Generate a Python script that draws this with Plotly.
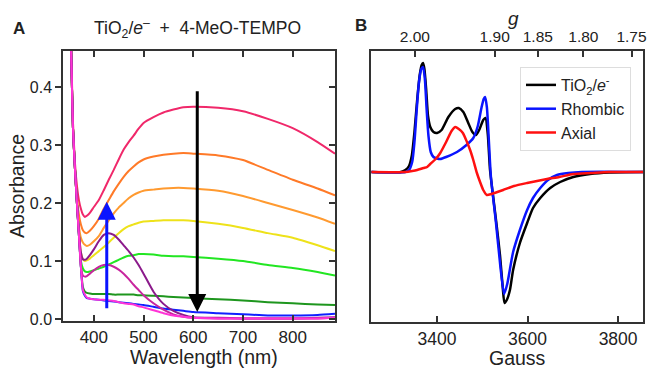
import plotly.graph_objects as go

# ---------------- Panel A data (UV-vis) ----------------
WL = [352, 355, 358, 362, 366, 370, 374, 378, 382, 386, 392, 400, 410, 420, 430, 440, 450,
      460, 470, 480, 490, 500, 520, 540, 560, 580, 600, 650, 700, 750, 800, 850, 885]

A_s1 = [0.56, 0.45, 0.34, 0.27, 0.23, 0.205, 0.19, 0.18, 0.176, 0.178, 0.183, 0.193, 0.205, 0.222,
        0.24, 0.257, 0.275, 0.292, 0.305, 0.316, 0.328, 0.338, 0.348, 0.356, 0.361, 0.365, 0.366,
        0.364, 0.358, 0.345, 0.329, 0.305, 0.285]
A_s2 = [0.56, 0.44, 0.33, 0.26, 0.21, 0.18, 0.163, 0.153, 0.149, 0.148, 0.152, 0.16, 0.173, 0.19,
        0.205, 0.22, 0.233, 0.245, 0.255, 0.263, 0.27, 0.275, 0.28, 0.283, 0.285, 0.286, 0.285,
        0.282, 0.274, 0.257, 0.24, 0.225, 0.213]
A_s3 = [0.56, 0.44, 0.33, 0.26, 0.2, 0.16, 0.14, 0.132, 0.128, 0.126, 0.128, 0.134, 0.143, 0.157,
        0.17, 0.182, 0.192, 0.2, 0.208, 0.214, 0.218, 0.221, 0.223, 0.225, 0.226, 0.226, 0.225,
        0.221, 0.212, 0.2, 0.188, 0.175, 0.164]
A_s4 = [0.56, 0.44, 0.33, 0.26, 0.2, 0.15, 0.115, 0.103, 0.1, 0.101, 0.104, 0.11, 0.117, 0.124,
        0.132, 0.14, 0.148, 0.155, 0.16, 0.163, 0.166, 0.168, 0.169, 0.17, 0.17, 0.17, 0.169,
        0.164, 0.157, 0.148, 0.14, 0.127, 0.117]
A_s5 = [0.56, 0.44, 0.33, 0.26, 0.2, 0.145, 0.1, 0.087, 0.082, 0.081, 0.082, 0.084, 0.087, 0.09,
        0.094, 0.098, 0.102, 0.106, 0.109, 0.11, 0.112, 0.112, 0.111, 0.109, 0.108, 0.108, 0.107,
        0.104, 0.1, 0.093, 0.088, 0.081, 0.075]
A_s6 = [0.56, 0.44, 0.33, 0.26, 0.2, 0.145, 0.09, 0.055, 0.047, 0.045, 0.044, 0.043, 0.043, 0.043,
        0.043, 0.042, 0.042, 0.042, 0.042, 0.042, 0.041, 0.041, 0.04, 0.039, 0.038, 0.037, 0.036,
        0.034, 0.032, 0.029, 0.027, 0.025, 0.024]
A_s7 = [0.56, 0.44, 0.33, 0.26, 0.2, 0.145, 0.09, 0.048, 0.04, 0.036, 0.035, 0.034, 0.033, 0.032,
        0.031, 0.03, 0.029, 0.028, 0.027, 0.026, 0.025, 0.024, 0.021, 0.018, 0.016, 0.014, 0.012,
        0.01, 0.008, 0.006, 0.006, 0.007, 0.009]
A_s8 = [0.56, 0.44, 0.33, 0.26, 0.2, 0.15, 0.115, 0.103, 0.102, 0.104, 0.11, 0.12, 0.134, 0.145,
        0.148, 0.145, 0.137, 0.127, 0.117, 0.106, 0.093, 0.078, 0.047, 0.026, 0.014, 0.007, 0.003,
        0.002, 0.001, 0.001, 0.001, 0.002, 0.003]
A_s9 = [0.56, 0.44, 0.33, 0.26, 0.2, 0.145, 0.09, 0.075, 0.073, 0.074, 0.078, 0.084, 0.09, 0.093,
        0.093, 0.09, 0.085, 0.078, 0.069, 0.059, 0.05, 0.041, 0.027, 0.016, 0.008, 0.004, 0.002,
        0.001, 0.001, 0.001, 0.001, 0.001, 0.002]
A_s10 = [0.56, 0.44, 0.33, 0.26, 0.2, 0.145, 0.09, 0.05, 0.042, 0.037, 0.035, 0.034, 0.033, 0.033,
         0.032, 0.031, 0.029, 0.027, 0.026, 0.025, 0.022, 0.02, 0.015, 0.01, 0.006, 0.004, 0.002,
         0.001, 0.001, 0.001, 0.001, 0.001, 0.002]

A_series = [A_s1, A_s2, A_s3, A_s4, A_s5, A_s6, A_s7, A_s8, A_s9, A_s10]
A_colors = ["#F0286A", "#FF7A28", "#FF9A30", "#EEE21A", "#22E622", "#1E961E",
            "#1020FF", "#8B1A8B", "#C8259E", "#FF33D6"]

A_xticks = [400, 500, 600, 700, 800]
A_yticks = [0.0, 0.1, 0.2, 0.3, 0.4]

# ---------------- Panel B data (EPR) ----------------
B_black_x = [3255, 3320, 3330, 3338, 3344, 3350, 3356, 3362, 3366, 3369, 3372, 3376, 3380, 3385,
             3392, 3400, 3410, 3425, 3440, 3448, 3458, 3468, 3478, 3486, 3494, 3502, 3507, 3512,
             3517, 3524, 3532, 3539, 3545, 3549, 3554, 3561, 3568, 3583, 3599, 3612, 3628, 3650,
             3672, 3701, 3738, 3780, 3855]
B_black_y = [0.0, 0.0, 0.02, 0.06, 0.16, 0.4, 0.72, 0.98, 1.07, 1.09, 1.03, 0.82, 0.56, 0.45,
             0.4, 0.39, 0.42, 0.55, 0.63, 0.64, 0.6, 0.5, 0.4, 0.37, 0.43, 0.52, 0.54, 0.38,
             0.02, -0.25, -0.55, -0.83, -1.15, -1.31, -1.28, -1.18, -0.98, -0.71, -0.51, -0.36,
             -0.26, -0.16, -0.1, -0.05, -0.02, -0.005, 0.0]

B_blue_x = [3255, 3330, 3338, 3345, 3350, 3355, 3360, 3365, 3369, 3373, 3377, 3381, 3386, 3392,
            3400, 3407, 3420, 3444, 3465, 3480, 3490, 3498, 3503, 3506, 3510, 3514, 3519, 3530,
            3540, 3548, 3555, 3568, 3583, 3599, 3612, 3628, 3645, 3665, 3690, 3720, 3855]
B_blue_y = [0.0, 0.0, 0.02, 0.1, 0.3, 0.62, 0.9, 1.03, 1.05, 0.93, 0.62, 0.36, 0.2, 0.15,
            0.135, 0.13, 0.15, 0.2, 0.27, 0.34, 0.46, 0.64, 0.73, 0.75, 0.65, 0.35, -0.05, -0.5,
            -0.95, -1.22, -1.12, -0.8, -0.58, -0.38, -0.26, -0.16, -0.08, -0.03, -0.01, 0.0, 0.0]

B_red_x = [3255, 3330, 3345, 3356, 3370, 3378, 3385, 3397, 3407, 3420, 3432, 3440, 3448, 3457,
           3466, 3473, 3480, 3488, 3495, 3502, 3510, 3520, 3546, 3570, 3599, 3643, 3670, 3701,
           3740, 3780, 3855]
B_red_y = [0.0, 0.0, 0.01, 0.02, 0.04, 0.05, 0.08, 0.13, 0.19, 0.3, 0.41, 0.45, 0.43, 0.39,
           0.3, 0.22, 0.12, -0.01, -0.1, -0.18, -0.23, -0.22, -0.18, -0.14, -0.11, -0.07, -0.05,
           -0.02, -0.01, 0.0, 0.0]

B_names = ["TiO<sub>2</sub>/<i>e</i><sup>-</sup>", "Rhombic", "Axial"]
B_colors = ["#000000", "#0A14FF", "#FF1010"]
B_xticks = [3400, 3600, 3800]
G_ticks = [2.00, 1.90, 1.85, 1.80, 1.75]
MW_FREQ_GHZ = 9.38  # microwave frequency used to convert g -> field

FONT = "Liberation Sans, Arial, Helvetica, sans-serif"
W, H = 649, 368


def px(xp):
    return xp / W


def py(yp):
    return 1 - yp / H


fig = go.Figure()

# Panel A traces
for ys, col in zip(A_series, A_colors):
    fig.add_trace(go.Scatter(x=WL, y=ys, mode="lines", xaxis="x", yaxis="y",
                             line=dict(color=col, width=2, shape="spline", smoothing=0.5),
                             showlegend=False, hoverinfo="skip"))
# invisible companion to hold the right-hand tick axis
fig.add_trace(go.Scatter(x=WL, y=A_s1, mode="lines", xaxis="x", yaxis="y2", opacity=0,
                         line=dict(width=0), showlegend=False, hoverinfo="skip"))

# Panel B traces
for xs, ys, name, col in zip([B_black_x, B_blue_x, B_red_x], [B_black_y, B_blue_y, B_red_y],
                             B_names, B_colors):
    fig.add_trace(go.Scatter(x=xs, y=ys, mode="lines", name=name, xaxis="x3", yaxis="y3",
                             line=dict(color=col, width=2.5, shape="spline", smoothing=0.6)))
fig.add_trace(go.Scatter(x=B_black_x, y=B_black_y, mode="lines", xaxis="x4", yaxis="y3",
                         opacity=0, line=dict(width=0), showlegend=False, hoverinfo="skip"))

g_field = [714.477 * MW_FREQ_GHZ / g for g in G_ticks]

axis_common = dict(showgrid=False, zeroline=False, showline=True, linecolor="#333333",
                   linewidth=1.5, tickcolor="#333333", tickwidth=1.5, ticklen=6,
                   automargin=False)


def tf(size):
    return dict(family=FONT, size=size, color="#222222")


A_dom_x = [px(63), px(335)]
A_dom_y = [py(321), py(51)]
B_dom_x = [px(371), px(643)]
B_dom_y = [py(322), py(51)]
A_yrange = [-0.0035, 0.462]
B_xrange = [3254, 3855]

fig.update_layout(
    width=W, height=H, margin=dict(l=0, r=0, t=0, b=0),
    paper_bgcolor="white", plot_bgcolor="white",
    font=dict(family=FONT, color="#222222"),
    xaxis=dict(axis_common, domain=A_dom_x, range=[338, 885], anchor="y",
               tickvals=A_xticks, ticks="inside", mirror="ticks", tickfont=tf(17)),
    yaxis=dict(axis_common, domain=A_dom_y, range=A_yrange, anchor="x",
               tickvals=A_yticks, tickformat=".1f", ticks="outside", mirror=True,
               tickfont=tf(16)),
    yaxis2=dict(axis_common, range=A_yrange, overlaying="y", side="right", anchor="x",
                tickvals=A_yticks, ticks="inside", showticklabels=False, showline=False),
    xaxis3=dict(axis_common, domain=B_dom_x, range=B_xrange, anchor="y3",
                tickvals=B_xticks, ticks="inside", mirror=True, tickfont=tf(17.5)),
    yaxis3=dict(axis_common, domain=B_dom_y, range=[-1.50, 1.21], anchor="x3",
                ticks="", showticklabels=False, mirror=True),
    xaxis4=dict(axis_common, range=B_xrange, overlaying="x3", side="top", anchor="y3",
                tickvals=g_field, ticktext=["%.2f" % g for g in G_ticks],
                ticks="inside", showline=False, tickfont=tf(15.5), ticklabelstandoff=5),
    legend=dict(x=px(520), y=py(67), xanchor="left", yanchor="top",
                bgcolor="white", bordercolor="#DDDDDD", borderwidth=1,
                font=dict(family=FONT, size=16, color="#222222"),
                tracegroupgap=0, itemwidth=30),
)

ann = [
    dict(text="<b>A</b>", x=px(19), y=py(28), size=17),
    dict(text="<b>B</b>", x=px(361), y=py(26), size=17),
    dict(text="TiO<sub>2</sub>/<i>e</i><sup>\u2013</sup>  +  4-MeO-TEMPO", x=px(197), y=py(28), size=17.5),
    dict(text="Wavelength (nm)", x=px(204), y=py(357), size=19.5),
    dict(text="Gauss", x=px(517), y=py(358), size=19.5),
    dict(text="<i>g</i>", x=px(513), y=py(18), size=19),
]
for a in ann:
    fig.add_annotation(text=a["text"], x=a["x"], y=a["y"], xref="paper", yref="paper",
                       xanchor="center", yanchor="middle", showarrow=False,
                       font=dict(family=FONT, size=a["size"], color="#222222"))
fig.add_annotation(text="Absorbance", x=px(17), y=py(186), xref="paper", yref="paper",
                   xanchor="center", yanchor="middle", showarrow=False, textangle=-90,
                   font=dict(family=FONT, size=19.5, color="#222222"))

# Arrows in panel A
fig.add_annotation(x=608, y=0.012, ax=608, ay=0.395, xref="x", yref="y", axref="x", ayref="y",
                   showarrow=True, arrowhead=2, arrowsize=1.2, arrowwidth=3, arrowcolor="#000000",
                   text="")
fig.add_annotation(x=426, y=0.202, ax=426, ay=0.016, xref="x", yref="y", axref="x", ayref="y",
                   showarrow=True, arrowhead=2, arrowsize=1.2, arrowwidth=3, arrowcolor="#0A14FF",
                   text="")

fig.write_html("out.html", config={"displayModeBar": False},
               post_script="document.body.style.margin='0';")
